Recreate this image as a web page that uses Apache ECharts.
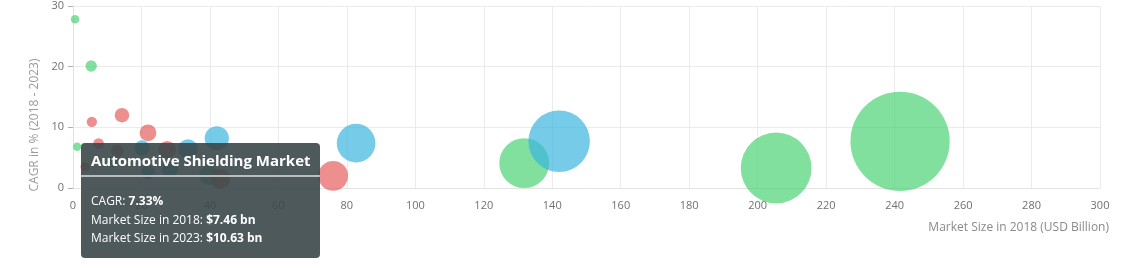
<!DOCTYPE html>
<html>
<head>
<meta charset="utf-8">
<script src="https://cdn.jsdelivr.net/npm/echarts@6/dist/echarts.min.js"></script>
<style>
html,body{margin:0;padding:0;background:#fff;}
#chart{width:1124px;height:268px;}
</style>
</head>
<body>
<div id="chart"></div>
<script>
// Market size 2018 (USD bn), CAGR 2018-2023 (%), market size 2023 (USD bn)
const greenSize2018 = [0.6, 5.3, 1.2, 39.7, 131.8, 205.4, 241.6];
const greenCagr     = [27.8, 20.1, 6.8, 2.1, 4.1, 3.3, 7.7];
const greenSize2023 = [2.0, 13.3, 1.7, 44.1, 161.0, 241.5, 351.0];

const redNames      = ['', '', '', 'Automotive Shielding Market', '', '', '', ''];
const redSize2018   = [5.5, 14.3, 21.9, 7.46, 3.5, 12.9, 27.5, 43.0, 76.0];
const redCagr       = [10.9, 12.0, 9.1, 7.33, 3.5, 6.1, 6.3, 1.5, 2.0];
const redSize2023   = [9.2, 25.2, 33.9, 10.63, 4.2, 17.3, 37.3, 46.3, 83.9];

const blueSize2018  = [20.2, 21.9, 33.6, 28.3, 11.7, 42.0, 82.7, 142.0];
const blueCagr      = [6.6, 2.6, 6.4, 3.1, 4.3, 8.2, 7.4, 7.7];
const blueSize2023  = [27.9, 24.9, 45.8, 33.0, 14.4, 62.4, 118.0, 206.0];

const xTicks = [0, 20, 40, 60, 80, 100, 120, 140, 160, 180, 200, 220, 240, 260, 280, 300];
const yTicks = [0, 10, 20, 30];

function build(xs, ys, zs, names) {
  return xs.map((x, i) => ({
    name: names ? (names[i] || '') : '',
    value: [x, ys[i], zs[i]]
  }));
}

const FONT = '"Open Sans", "Noto Sans", sans-serif';
const chart = echarts.init(document.getElementById('chart'));

const sizeFn = v => 8 + 0.26 * v[2];

chart.setOption({
  animation: false,
  textStyle: { fontFamily: FONT },
  grid: { left: 73, right: 24, top: 6, bottom: 80, containLabel: false },
  tooltip: {
    trigger: 'item',
    triggerOn: 'none',
    alwaysShowContent: true,
    transitionDuration: 0,
    backgroundColor: 'rgba(58,71,73,0.9)',
    borderColor: 'rgba(58,71,73,0.9)',
    borderWidth: 0,
    borderRadius: 4,
    padding: 0,
    extraCssText: 'box-shadow:none;width:239px;height:115px;box-sizing:border-box;',
    position: function () { return [81, 143]; },
    formatter: function (p) {
      const v = p.value;
      return '<div style="font-family:' + FONT.replace(/"/g, "'") + ';color:#fff;">' +
        '<div style="font-size:15px;font-weight:bold;padding:6px 10px 0 10px;height:26px;line-height:22px;border-bottom:2px solid #b9bdbe;">' + p.name + '</div>' +
        '<div style="font-size:12px;line-height:18.5px;padding:15px 10px 0 10px;">' +
        'CAGR: <b>' + v[1].toFixed(2) + '%</b><br>' +
        'Market Size in 2018: <b>$' + v[0].toFixed(2) + ' bn</b><br>' +
        'Market Size in 2023: <b>$' + v[2].toFixed(2) + ' bn</b>' +
        '</div></div>';
    }
  },
  xAxis: {
    type: 'value',
    min: 0, max: 300, interval: 20,
    name: 'Market Size in 2018 (USD Billion)',
    nameLocation: 'end',
    nameGap: 9,
    nameTextStyle: { color: '#8a8a8a', fontSize: 12, align: 'right', verticalAlign: 'top', padding: [34, 0, 0, 0] },
    axisLine: { show: true, lineStyle: { color: '#e3e3e3' } },
    axisTick: { show: false },
    axisLabel: { color: '#707070', fontSize: 11, margin: 12,
      formatter: v => xTicks.includes(v) ? String(v) : '' },
    splitLine: { show: true, lineStyle: { color: '#ebebeb' } }
  },
  yAxis: {
    type: 'value',
    min: 0, max: 30, interval: 10,
    name: 'CAGR in % (2018 - 2023)',
    nameLocation: 'middle',
    nameGap: 32,
    nameTextStyle: { color: '#9a9a9a', fontSize: 12, padding: [0, 56, 0, 0] },
    axisLine: { show: true, lineStyle: { color: '#e3e3e3' } },
    axisTick: { show: true, length: 5, lineStyle: { color: '#b0b0b0' } },
    axisLabel: { color: '#707070', fontSize: 11, margin: 9,
      formatter: v => yTicks.includes(v) ? String(v) : '' },
    splitLine: { show: true, lineStyle: { color: '#ebebeb' } }
  },
  series: [
    {
      name: 'Green', type: 'scatter',
      data: build(greenSize2018, greenCagr, greenSize2023),
      symbolSize: sizeFn,
      itemStyle: { color: '#3fcf6b', opacity: 0.65 },
      emphasis: { disabled: true }
    },
    {
      name: 'Red', type: 'scatter',
      data: build(redSize2018, redCagr, redSize2023, redNames),
      symbolSize: sizeFn,
      itemStyle: { color: '#e55f5f', opacity: 0.7 },
      emphasis: { disabled: true }
    },
    {
      name: 'Blue', type: 'scatter',
      data: build(blueSize2018, blueCagr, blueSize2023),
      symbolSize: sizeFn,
      itemStyle: { color: '#3bb5de', opacity: 0.7 },
      emphasis: { disabled: true }
    }
  ]
});

chart.dispatchAction({ type: 'showTip', seriesIndex: 1, dataIndex: redNames.indexOf('Automotive Shielding Market') });
</script>
</body>
</html>
